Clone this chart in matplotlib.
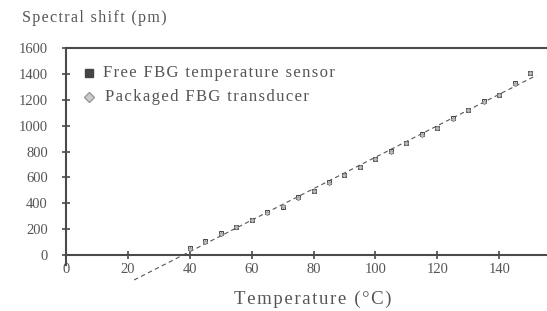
import numpy as np
import matplotlib
matplotlib.use("Agg")
import matplotlib.pyplot as plt

temperature = [40, 45, 50, 55, 60, 65, 70, 75, 80, 85, 90, 95, 100, 105,
               110, 115, 120, 125, 130, 135, 140, 145, 150]
free_shift = [54, 108, 170, 216, 270, 332, 371, 448, 494, 564, 618, 680, 741,
              803, 865, 934, 981, 1058, 1120, 1189, 1236, 1328, 1405]
packaged_shift = [50, 104, 166, 220, 274, 328, 376, 444, 498, 560, 622, 684,
                  745, 800, 868, 930, 985, 1054, 1124, 1185, 1240, 1324, 1410]
fit_range = [22, 152]

x_ticks = [0, 20, 40, 60, 80, 100, 120, 140, 160]
y_ticks = [0, 200, 400, 600, 800, 1000, 1200, 1400, 1600]

plt.rcParams["font.family"] = ["Liberation Serif", "DejaVu Serif"]
grey = "#4a4a4a"
text_grey = "#555555"


def spaced(s):
    # leicht gesperrte Schrift wie im Scan
    return "\u200a".join(s)


fig = plt.figure(figsize=(5.47, 3.11), dpi=100)
ax = fig.add_axes([0.1207, 0.0965, 0.905, 0.7492])

# Ausgleichsgerade
k, d = np.polyfit(temperature + temperature, free_shift + packaged_shift, 1)
xf = np.array(fit_range)
ax.plot(xf, k * xf + d, linestyle=(0, (4, 3)), color="#555555", lw=0.8, zorder=2)

ax.plot(temperature, free_shift, linestyle="none", marker="s", ms=3.0,
        mfc="white", mec="#444444", mew=0.7, zorder=3)
ax.plot(temperature, packaged_shift, linestyle="none", marker="D", ms=2.4,
        mfc="#bbbbbb", mec="#888888", mew=0.5, zorder=3)

ax.set_xlim(0, 160)
ax.set_ylim(-200, 1600)

ax.spines["right"].set_visible(False)
ax.spines["bottom"].set_position(("data", 0))
ax.spines["left"].set_bounds(-80, 1600)
for s in ["left", "bottom", "top"]:
    ax.spines[s].set_color(grey)
    ax.spines[s].set_linewidth(1.5)

ax.set_xticks(x_ticks)
ax.set_yticks(y_ticks)
ax.set_xticklabels([str(v) for v in x_ticks])
ax.set_yticklabels([str(v) for v in y_ticks])
ax.tick_params(direction="inout", length=6, width=1.2, color=grey,
               labelcolor=text_grey, labelsize=10.5)
ax.tick_params(axis="x", pad=3)
ax.tick_params(axis="y", pad=10)

# Legende von Hand
ax.plot([7.5], [1405], marker="s", ms=5.5, color="#444444", clip_on=False)
ax.text(12, 1405, spaced("Free FBG temperature sensor"), va="center",
        fontsize=12, color=text_grey)
ax.plot([7.5], [1225], marker="D", ms=5, mfc="#cccccc", mec="#999999",
        clip_on=False)
ax.text(12.5, 1225, spaced("Packaged FBG transducer"), va="center",
        fontsize=12, color=text_grey)

fig.text(22 / 547, 1 - 18 / 311, spaced("Spectral shift (pm)"), va="center",
         fontsize=11.5, color=text_grey)
fig.text(313 / 547, 1 - 299 / 311, spaced("Temperature (°C)"), va="center",
         ha="center", fontsize=13.5, color=text_grey)

fig.savefig("out.png", dpi=100)
